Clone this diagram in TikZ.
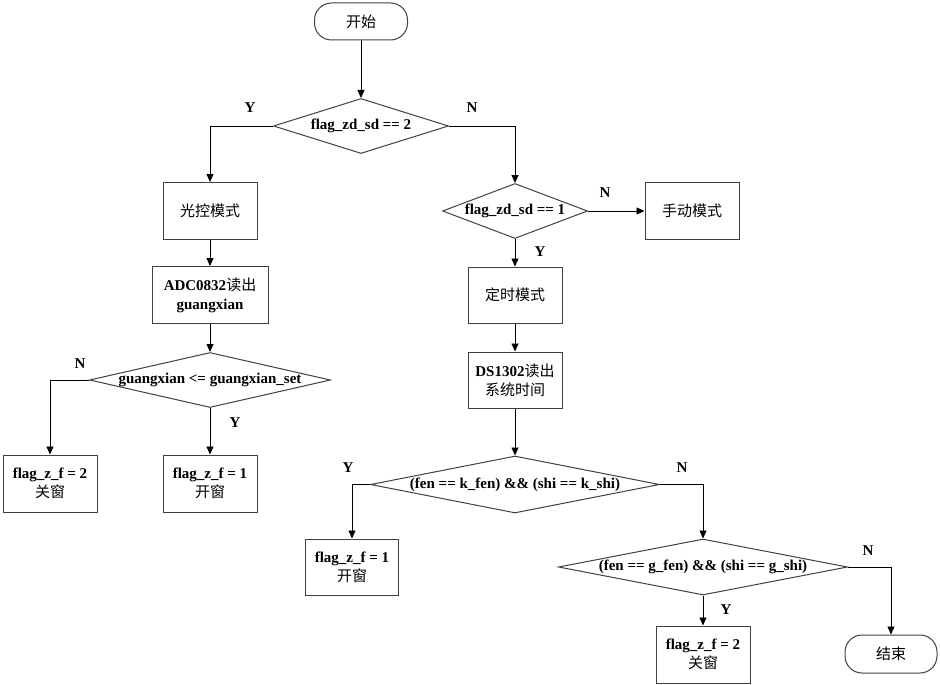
\documentclass[tikz,border=0pt]{standalone}
\usepackage{fontspec}
\setmainfont{Liberation Serif}
\newfontfamily\cjk{Noto Sans CJK SC}
\usetikzlibrary{arrows.meta, shapes.geometric}
\newcommand{\dtext}[1]{\makebox[0pt]{\bfseries #1}}

\begin{document}
\begin{tikzpicture}[
    x=1pt, y=-1pt,
    >={Triangle[length=8pt, width=7pt]},
    every node/.style={font=\fontsize{15}{19}\selectfont},
    proc/.style={draw=black!75, line width=1pt, minimum width=94pt, minimum height=57pt, inner sep=0pt, align=center},
    decide/.style={diamond, draw=black!75, line width=1pt, aspect=3, inner sep=0pt},
    term/.style={draw=black!75, line width=1pt, rounded corners=17pt, minimum width=93pt, minimum height=37pt, inner sep=0pt},
    yn/.style={font=\fontsize{15}{18}\selectfont\bfseries},
    flow/.style={->, line width=0.8pt}
]
\useasboundingbox (0,0) rectangle (940,685);

% start and first test
\node[term] (start) at (361,21.5) {\cjk 开始};
\node[decide, minimum width=175pt, minimum height=55pt] (d1) at (361,126) {\dtext{flag\_zd\_sd == 2}};

% light control branch
\node[proc] (mode1) at (210,211) {\cjk 光控模式};
\node[proc, minimum width=116pt] (adc) at (210,295) {\textbf{ADC0832}{\cjk 读出}\\\textbf{guangxian}};
\node[decide, minimum width=241pt, minimum height=55pt] (d3) at (210,380) {\dtext{guangxian <= guangxian\_set}};
\node[proc] (close1) at (50,483.5) {\textbf{flag\_z\_f = 2}\\{\cjk 关窗}};
\node[proc] (open1) at (210,483.5) {\textbf{flag\_z\_f = 1}\\{\cjk 开窗}};

% timer branch
\node[decide, minimum width=145pt, minimum height=55pt] (d2) at (515,211) {\dtext{flag\_zd\_sd == 1}};
\node[proc] (manual) at (692,211) {\cjk 手动模式};
\node[proc, minimum height=56pt] (timer) at (515,295) {\cjk 定时模式};
\node[proc, minimum height=56pt] (ds) at (515,380) {\textbf{DS1302}{\cjk 读出}\\{\cjk 系统时间}};
\node[decide, minimum width=289pt, minimum height=57pt] (d4) at (515,484.5) {\dtext{(fen == k\_fen) \&\& (shi == k\_shi)}};
\node[proc, minimum width=93pt, minimum height=56pt] (open2) at (352,567) {\textbf{flag\_z\_f = 1}\\{\cjk 开窗}};
\node[decide, minimum width=289pt, minimum height=56pt] (d5) at (703,567) {\dtext{(fen == g\_fen) \&\& (shi == g\_shi)}};
\node[proc] (close2) at (703,654.5) {\textbf{flag\_z\_f = 2}\\{\cjk 关窗}};
\node[term, minimum width=92pt, minimum height=38pt] (end) at (891,654) {\cjk 结束};

% Y / N marks
\node[yn] (y1) at (250,108) {Y};
\node[yn] (n1) at (472,108) {N};
\node[yn] (y2) at (540,252) {Y};
\node[yn] (n2) at (605,193) {N};
\node[yn] (n3) at (80,364) {N};
\node[yn] (y3) at (235,423) {Y};
\node[yn] (y4) at (348,468) {Y};
\node[yn] (n4) at (682,468) {N};
\node[yn] (y5) at (726,610) {Y};
\node[yn] (n5) at (868,551) {N};

% connectors
\draw[flow] (start) -- (d1);
\draw[flow] (d1.west) -| (mode1);
\draw[flow] (d1.east) -| (d2);
\draw[flow] (mode1) -- (adc);
\draw[flow] (adc) -- (d3);
\draw[flow] (d3.west) -| (close1);
\draw[flow] (d3) -- (open1);
\draw[flow] (d2.east) -- (manual.west);
\draw[flow] (d2) -- (timer);
\draw[flow] (timer) -- (ds);
\draw[flow] (ds) -- (d4);
\draw[flow] (d4.west) -| (open2);
\draw[flow] (d4.east) -| (d5);
\draw[flow] (d5) -- (close2);
\draw[flow] (d5.east) -| (end);
\end{tikzpicture}
\end{document}
